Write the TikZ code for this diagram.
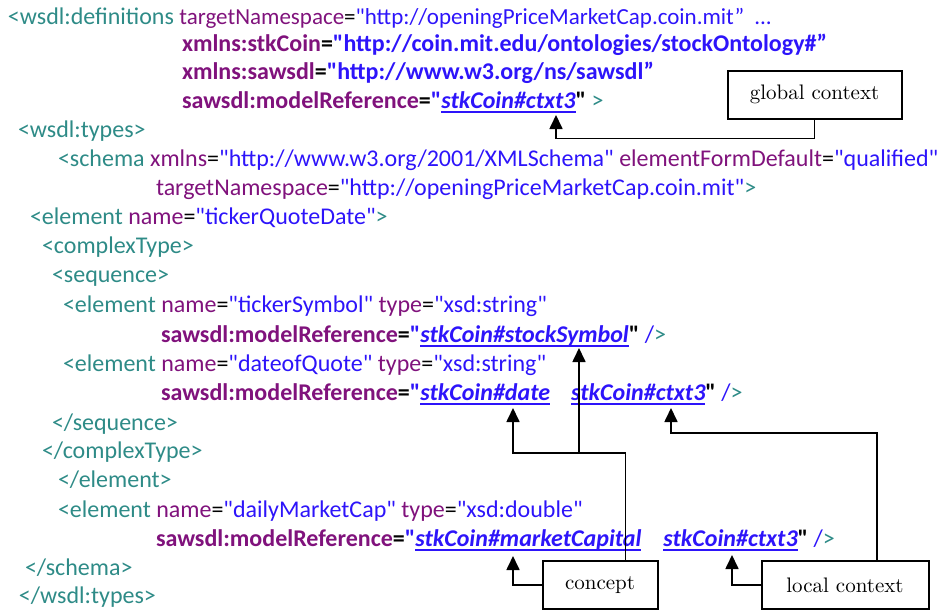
\documentclass[tikz,border=0pt]{standalone}
\usepackage{fontspec}
\newfontfamily\codefont{Carlito}
\newfontfamily\labelfont{lmroman10-regular}[Extension=.otf]
\usetikzlibrary{arrows.meta}

\definecolor{tagc}{RGB}{46,139,135}
\definecolor{attc}{RGB}{128,18,124}
\definecolor{valc}{RGB}{45,20,250}

% syntax colouring of the WSDL listing
\newcommand\xtag[1]{\textcolor{tagc}{#1}}
\newcommand\xatt[1]{\textcolor{attc}{#1}}
\newcommand\xval[1]{\textcolor{valc}{#1}}
\newcommand\xlink[1]{\textcolor{valc}{\setbox0\hbox{\bfseries\itshape #1}\rlap{\rule[-4.5pt]{\wd0}{1.8pt}}\box0}}

\tikzset{
  code/.style={anchor=base west, inner sep=0pt, outer sep=0pt,
    font=\codefont\fontsize{24}{29}\selectfont},
  note/.style={draw, line width=2pt, minimum height=48pt, inner sep=0pt,
    font=\labelfont\fontsize{21}{25}\selectfont},
  arr/.style={line width=1.7pt, -{Triangle[width=13pt,length=14pt]}}
}

\begin{document}
\begin{tikzpicture}[x=1pt, y=-1pt]
\useasboundingbox (0,0) rectangle (945,613);

% listing
\node[code] (l1) at (8,24) {\xtag{<wsdl:definitions} {\fontsize{23}{28}\selectfont\xatt{targetNamespace}=\xval{"http://openingPriceMarketCap.coin.mit”\hspace{10pt}...}}};
\node[code] (l2) at (182,51) {\bfseries\xatt{xmlns:stkCoin}=\xval{"http://coin.mit.edu/ontologies/stockOntology\#”}};
\node[code] (l3) at (182,79) {\bfseries\xatt{xmlns:sawsdl}=\xval{"http://www.w3.org/ns/sawsdl”}};
\node[code] (l4) at (182,108) {\textbf{\xatt{sawsdl:modelReference}=\xval{"}\xlink{stkCoin\#ctxt3}"} \xtag{>}};
\node[code] (l5) at (18,137) {\xtag{<wsdl:types>}};
\node[code] (l6) at (58,166) {\xtag{<schema} \xatt{xmlns}=\xval{"http://www.w3.org/2001/XMLSchema"} \xatt{elementFormDefault}=\xval{"qualified"}};
\node[code] (l7) at (156,195) {\xatt{targetNamespace}=\xval{"http://openingPriceMarketCap.coin.mit"}\xtag{>}};
\node[code] (l8) at (30,224) {\xtag{<element} \xatt{name}=\xval{"tickerQuoteDate"}\xtag{>}};
\node[code] (l9) at (42,253) {\xtag{<complexType>}};
\node[code] (l10) at (52,282) {\xtag{<sequence>}};
\node[code] (l11) at (63,312) {\xtag{<element} \xatt{name}=\xval{"tickerSymbol"} \xatt{type}=\xval{"xsd:string"}};
\node[code] (l12) at (161,342) {\textbf{\xatt{sawsdl:modelReference}=\xval{"}\xlink{stkCoin\#stockSymbol}"} \xval{/}\xtag{>}};
\node[code] (l13) at (63,371) {\xtag{<element} \xatt{name}=\xval{"dateofQuote"} \xatt{type}=\xval{"xsd:string"}};
\node[code] (l14) at (161,400) {\textbf{\xatt{sawsdl:modelReference}=\xval{"}\xlink{stkCoin\#date}\hspace{21pt}\xlink{stkCoin\#ctxt3}"} \xval{/}\xtag{>}};
\node[code] (l15) at (52,430) {\xtag{</sequence>}};
\node[code] (l16) at (42,458) {\xtag{</complexType>}};
\node[code] (l17) at (58,487) {\xtag{</element>}};
\node[code] (l18) at (58,517) {\xtag{<element} \xatt{name}=\xval{"dailyMarketCap"} \xatt{type}=\xval{"xsd:double"}};
\node[code] (l19) at (156,546) {\textbf{\xatt{sawsdl:modelReference}=\xval{"}\xlink{stkCoin\#marketCapital}\hspace{22pt}\xlink{stkCoin\#ctxt3}"} \xval{/}\xtag{>}};
\node[code] (l20) at (25,575) {\xtag{</schema>}};
\node[code] (l21) at (19,603) {\xtag{</wsdl:types>}};

% annotation boxes
\node[note, minimum width=174pt, minimum height=48pt] (gctx) at (814.5,94.5) {global context};
\node[note, minimum width=115pt] (concept) at (600,585) {concept};
\node[note, minimum width=167pt] (lctx) at (845,585) {local context};

% arrow targets below the referenced terms
\coordinate (tipg) at (556,115);
\coordinate (tipss) at (579,348);
\coordinate (tipdate) at (513,408);
\coordinate (tipc1) at (671,408);
\coordinate (tipmc) at (513,556);
\coordinate (tipc2) at (732,555);
\coordinate (cjoin) at (579,453);

% connectors
\draw[arr] (gctx.south) -- ++(0,19) -| (tipg);
\draw[arr] (concept.west) -| (tipmc);
\draw[arr] ([xshift=-33pt]concept.north east) |- (cjoin) -| (tipdate);
\draw[arr] (cjoin) -- (tipss);
\draw[arr] (lctx.west) -| (tipc2);
\draw[arr] ([xshift=32pt]lctx.north) -- ++(0,-127) -| (tipc1);
\end{tikzpicture}
\end{document}
